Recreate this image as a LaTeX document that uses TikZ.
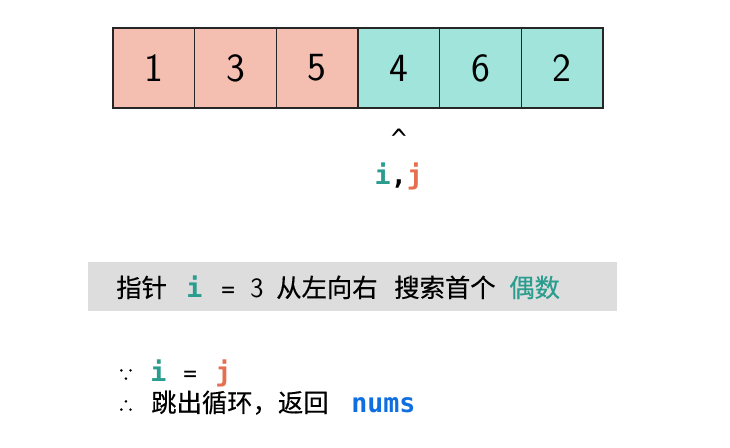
\documentclass[tikz,border=0pt]{standalone}
\usepackage{fontspec}
\usepackage{xcolor}
\usetikzlibrary{positioning}
\newfontfamily\cjk{Noto Sans CJK SC}[FakeBold=0.4]
\newfontfamily\codefont{DejaVu Sans Mono}
\definecolor{oddred}{HTML}{F4BFB1}
\definecolor{evengreen}{HTML}{A1E4DC}
\definecolor{ptri}{HTML}{2A9D8F}
\definecolor{ptrj}{HTML}{E76F51}
\definecolor{numsblue}{HTML}{0F6FE0}
\definecolor{banner}{HTML}{DDDDDD}
\tikzset{
    cell/.style={draw=black!85, line width=1pt, minimum width=61.25pt, minimum height=60pt,
        inner sep=0pt, font=\sffamily\fontsize{30}{30}\selectfont},
    ptr/.style={anchor=base west, inner sep=0pt, font=\codefont\bfseries\fontsize{20}{20}\selectfont},
    sym/.style={anchor=base west, inner sep=0pt, font=\codefont\fontsize{17}{17}\selectfont},
    txt/.style={anchor=base west, inner sep=0pt, font=\cjk\fontsize{19}{19}\selectfont},
    because/.style={anchor=base west, inner sep=0pt, font=\cjk\fontsize{13}{13}\selectfont}
}

\begin{document}
\begin{tikzpicture}[x=0.75pt, y=-0.75pt]
    \useasboundingbox (0,0) rectangle (730,447);

    % Array
    \foreach \n/\v/\c in {1/1/oddred, 2/3/oddred, 3/5/oddred, 4/4/evengreen, 5/6/evengreen, 6/2/evengreen}
        \node[cell, fill=\c] (c\n) at ({113+81.67*(\n-0.5)}, 68) {\v};

    % Pointers
    \node[sym, anchor=base, font=\codefont\fontsize{20}{20}\selectfont] (caret) at (398.8,148) {\^{}};
    \node[ptr, anchor=base] (ij) at (398.8,184) {\textcolor{ptri}{i},\textcolor{ptrj}{j}};

    % Banner
    \fill[banner] (88,262) rectangle (617,311);
    \node[txt] (zhizhen) at (116,297) {指针};
    \node[ptr, text=ptri] (bi) at (186,297) {i};
    \node[sym] (beq) at (221,297) {=};
    \node[anchor=base west, inner sep=0pt, font=\sffamily\fontsize{21}{21}\selectfont] (bthree) at (250,297) {3};
    \node[txt] (dir) at (276,297) {从左向右};
    \node[txt] (search) at (394,297) {搜索首个};
    \node[txt, text=ptri] (even) at (509,297) {偶数};

    % Conclusion
    \node[because] (since) at (117,381) {∵};
    \node[ptr, text=ptri] (si) at (150,381) {i};
    \node[sym] (seq) at (183,381) {=};
    \node[ptr, text=ptrj] (sj) at (215,381) {j};
    \node[because] (hence) at (117,412) {∴};
    \node[txt] (jump) at (151,412) {跳出循环，返回};
    \node[ptr, text=numsblue] (nums) at (351,412) {nums};
\end{tikzpicture}
\end{document}
